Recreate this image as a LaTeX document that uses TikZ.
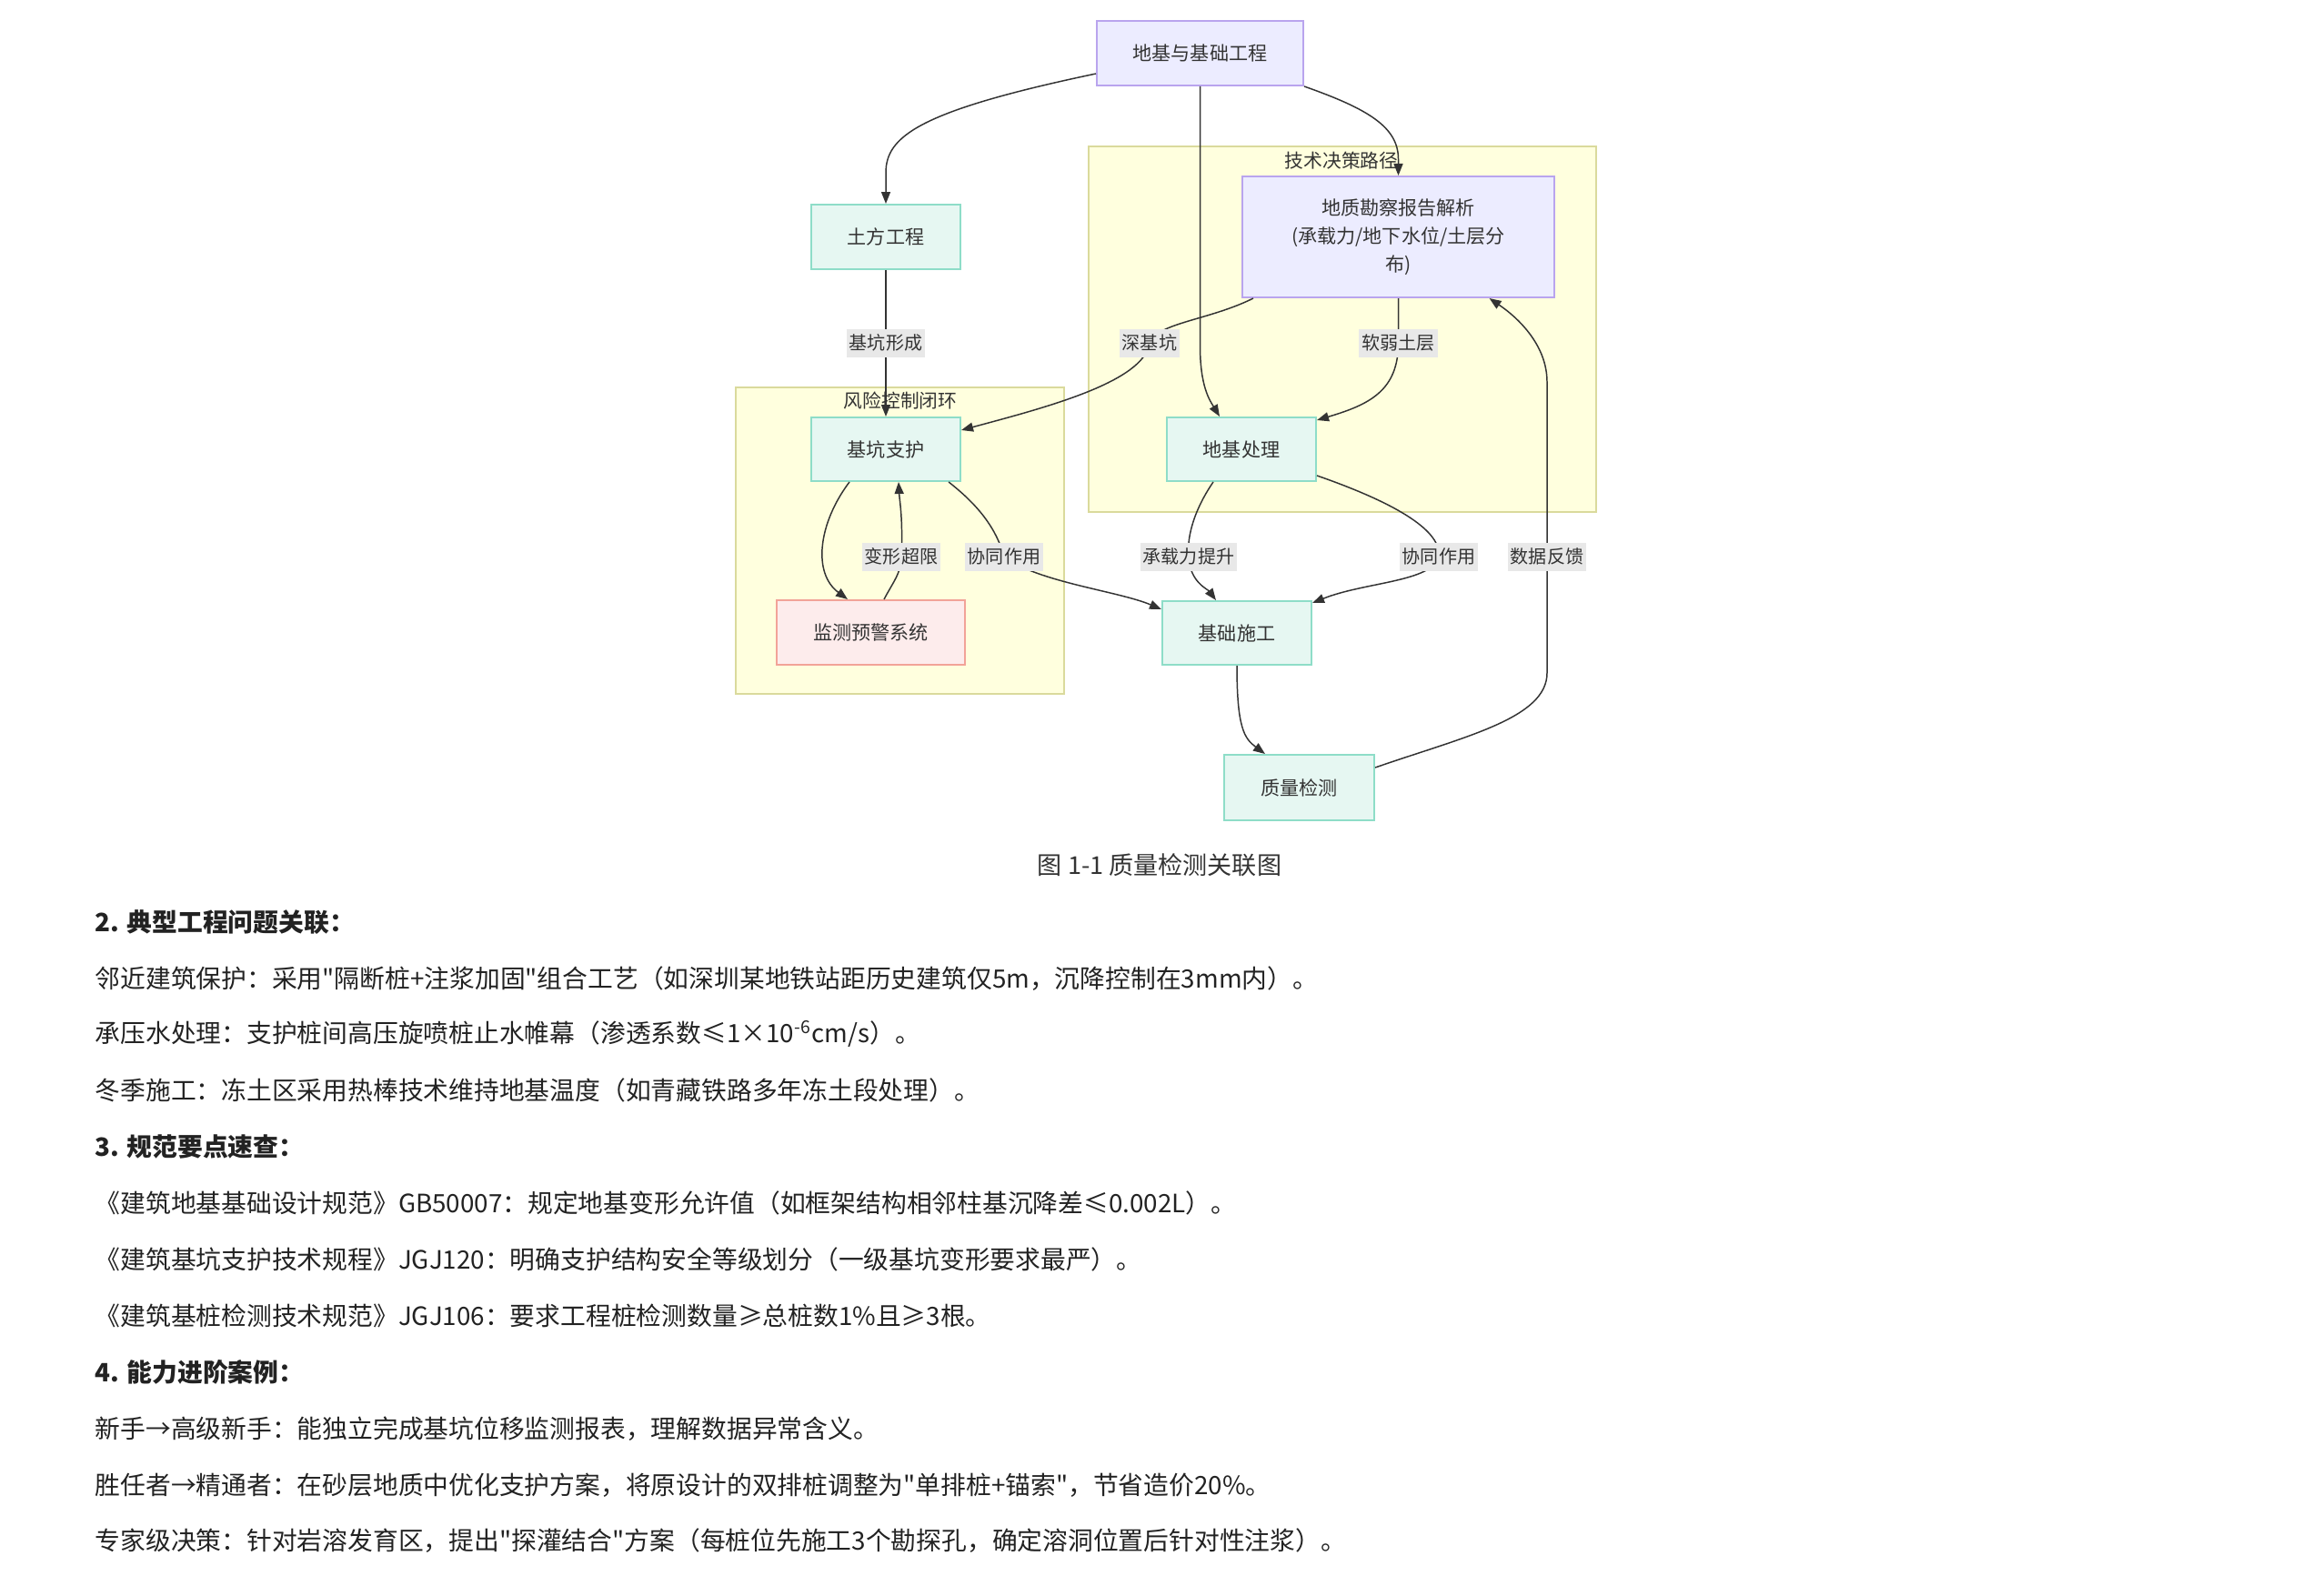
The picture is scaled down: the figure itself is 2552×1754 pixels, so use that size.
\documentclass[tikz,border=0pt]{standalone}
\usepackage{fontspec}
\setmainfont{Noto Sans CJK SC}[Ligatures=TeXOff]
\usetikzlibrary{arrows.meta}
\definecolor{ink}{HTML}{333333}
\definecolor{bodyink}{HTML}{222222}
\definecolor{purpfill}{HTML}{ECECFF}
\definecolor{purpline}{HTML}{B9A4EE}
\definecolor{tealfill}{HTML}{E6F7F2}
\definecolor{tealline}{HTML}{8EDDC8}
\definecolor{redfill}{HTML}{FDECEC}
\definecolor{redline}{HTML}{F2A398}
\definecolor{grpfill}{HTML}{FFFFDE}
\definecolor{grpline}{HTML}{DADA9C}
\definecolor{labfill}{HTML}{E8E8E8}

\begin{document}
\begin{tikzpicture}[x=0.01cm,y=-0.01cm,
  box/.style={draw,line width=0.55pt,minimum height=0.71cm,inner sep=0pt,text=ink,font=\fontsize{6}{8.8}\selectfont},
  purpbox/.style={box,fill=purpfill,draw=purpline},
  tealbox/.style={box,fill=tealfill,draw=tealline,minimum width=1.64cm},
  redbox/.style={box,fill=redfill,draw=redline},
  grp/.style={draw=grpline,fill=grpfill,line width=0.6pt,inner sep=0pt},
  gtitle/.style={inner sep=0pt,text=ink,font=\fontsize{5.9}{7}\selectfont},
  elab/.style={fill=labfill,inner xsep=0.03cm,inner ysep=0pt,minimum height=0.31cm,text=ink,font=\fontsize{5.7}{7}\selectfont},
  link/.style={draw=ink,line width=0.42pt,-{Triangle[length=0.13cm,width=0.1cm]}},
  para/.style={anchor=west,inner sep=0pt,text=bodyink,font=\fontsize{7.9}{9}\selectfont}]

\useasboundingbox (0,0) rectangle (2552,1754);

% groups
\node[grp,minimum width=3.61cm,minimum height=3.37cm] (risk) at (989.5,594.5) {};
\node[grp,minimum width=5.58cm,minimum height=4.02cm] (tech) at (1476,362) {};
\node[gtitle] (risklab) at (990,441) {风险控制闭环};
\node[gtitle] (techlab) at (1475,177) {技术决策路径};

% nodes
\node[purpbox,minimum width=2.27cm] (root) at (1319.5,58.5) {地基与基础工程};
\node[tealbox] (earth) at (974,260.5) {土方工程};
\node[purpbox,minimum width=3.43cm,minimum height=1.33cm,align=center] (survey) at (1537.5,260.5)
  {地质勘察报告解析\\(承载力/地下水位/土层分\\布)};
\node[tealbox,minimum height=0.70cm] (pit) at (974,494) {基坑支护};
\node[tealbox,minimum height=0.70cm] (treat) at (1365,494) {地基处理};
\node[redbox,minimum width=2.07cm] (monitor) at (957.5,695.5) {监测预警系统};
\node[tealbox,minimum height=0.70cm] (found) at (1360,696) {基础施工};
\node[tealbox,minimum width=1.65cm,minimum height=0.72cm] (check) at (1428.5,866) {质量检测};

% label spots
\coordinate (q1) at (974,377);
\coordinate (q2) at (1264,377);
\coordinate (q3) at (1537.5,377);
\coordinate (q4) at (991,612);
\coordinate (q5) at (1104,612);
\coordinate (q6) at (1307,612);
\coordinate (q7) at (1582,612);
\coordinate (q8) at (1701,612);

% links
\draw[link] ([yshift=-0.225cm]root.west) .. controls (1010,122) and (974,150) .. (974,190) -- (earth.north);
\draw[link] (root.south) -- (1319.5,380) .. controls (1319.5,425) and (1330,440) .. ([xshift=-0.24cm]treat.north);
\draw[link] (root.south east) .. controls (1505,120) and (1537.5,140) .. (1537.5,175) -- (survey.north);
\draw[link] (earth.south) -- (q1) -- (pit.north);
\draw[link] ([xshift=0.13cm]survey.south west) .. controls (1330,352) and (1272,355) .. (q2)
  .. controls (1258,420) and (1150,448) .. ([yshift=0.21cm]pit.east);
\draw[link] (survey.south) -- (q3) .. controls (1537.5,430) and (1505,445) .. ([yshift=-0.04cm]treat.north east);
\draw[link] ([xshift=-0.4cm]pit.south) .. controls (900,575) and (893,630) .. ([xshift=-0.255cm]monitor.north);
\draw[link] ([xshift=0.145cm]monitor.north) .. controls (982,640) and (991,630) .. (q4)
  .. controls (993,570) and (989,550) .. ([xshift=0.14cm]pit.south);
\draw[link] ([xshift=0.69cm]pit.south) .. controls (1075,555) and (1095,580) .. (q5)
  .. controls (1140,640) and (1230,650) .. ([yshift=0.26cm]found.west);
\draw[link] ([xshift=-0.31cm]treat.south) .. controls (1310,565) and (1305,595) .. (q6)
  .. controls (1308,640) and (1328,648) .. ([xshift=-0.23cm]found.north);
\draw[link] ([yshift=0.07cm]treat.south east) .. controls (1540,555) and (1585,585) .. (q7)
  .. controls (1575,640) and (1500,640) .. ([yshift=-0.03cm]found.north east);
\draw[link] (found.south) .. controls (1360,800) and (1368,812) .. ([xshift=-0.375cm]check.north);
\draw[link] ([yshift=-0.15cm]check.north east) .. controls (1610,810) and (1701,790) .. (1701,740) -- (q8)
  -- (1701,420) .. controls (1701,380) and (1670,350) .. ([xshift=1.0cm]survey.south);

% labels
\node[elab] (t1) at (q1) {基坑形成};
\node[elab] (t2) at (q2) {深基坑};
\node[elab] (t3) at (q3) {软弱土层};
\node[elab] (t4) at (q4) {变形超限};
\node[elab] (t5) at (q5) {协同作用};
\node[elab] (t6) at (q6) {承载力提升};
\node[elab] (t7) at (q7) {协同作用};
\node[elab] (t8) at (q8) {数据反馈};

\node[inner sep=0pt,text=ink,font=\fontsize{7.7}{9}\selectfont] (cap) at (1275,951) {图 1-1 质量检测关联图};

% text below
\node[para] (h2) at (104,1014) {\bfseries 2. 典型工程问题关联：};
\node[para] (p1) at (104,1076) {邻近建筑保护：采用"隔断桩+注浆加固"组合工艺（如深圳某地铁站距历史建筑仅5m，沉降控制在3mm内）。};
\node[para] (p2) at (104,1137) {承压水处理：支护桩间高压旋喷桩止水帷幕（渗透系数≤1×10\textsuperscript{-6}cm/s）。};
\node[para] (p3) at (104,1199) {冬季施工：冻土区采用热棒技术维持地基温度（如青藏铁路多年冻土段处理）。};
\node[para] (h3) at (104,1261) {\bfseries 3. 规范要点速查：};
\node[para] (p4) at (104,1323) {《建筑地基基础设计规范》GB50007：规定地基变形允许值（如框架结构相邻柱基沉降差≤0.002L）。};
\node[para] (p5) at (104,1385) {《建筑基坑支护技术规程》JGJ120：明确支护结构安全等级划分（一级基坑变形要求最严）。};
\node[para] (p6) at (104,1447) {《建筑基桩检测技术规范》JGJ106：要求工程桩检测数量≥总桩数1\%且≥3根。};
\node[para] (h4) at (104,1509) {\bfseries 4. 能力进阶案例：};
\node[para] (p7) at (104,1571) {新手→高级新手：能独立完成基坑位移监测报表，理解数据异常含义。};
\node[para] (p8) at (104,1633) {胜任者→精通者：在砂层地质中优化支护方案，将原设计的双排桩调整为"单排桩+锚索"，节省造价20\%。};
\node[para] (p9) at (104,1694) {专家级决策：针对岩溶发育区，提出"探灌结合"方案（每桩位先施工3个勘探孔，确定溶洞位置后针对性注浆）。};

\end{tikzpicture}
\end{document}
